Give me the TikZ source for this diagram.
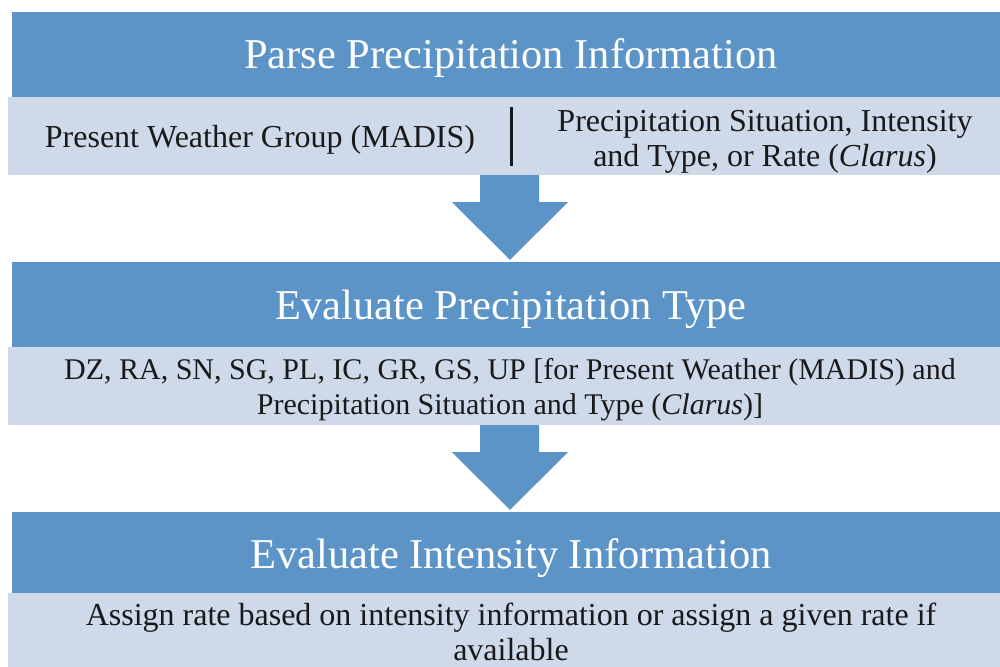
\documentclass[tikz,border=0pt]{standalone}
\usepackage{fontspec}
\setmainfont{Liberation Serif}
\usetikzlibrary{calc}
\definecolor{hdr}{RGB}{92,148,200}
\definecolor{bodyfill}{RGB}{206,217,233}
\definecolor{ink}{RGB}{25,25,25}
\begin{document}
\begin{tikzpicture}[x=1pt,y=-1pt,
  hdrbox/.style={fill=hdr, draw=none, inner sep=0pt, text=white, font=\fontsize{42.5}{48}\selectfont},
  bodybox/.style={fill=bodyfill, draw=none, inner sep=0pt},
  txt/.style={font=\fontsize{32}{35}\selectfont, align=center, text=ink, inner sep=0pt},
  blockarrow/.style={fill=hdr, draw=none}]
\useasboundingbox (0,0) rectangle (1000,666);
\fill[white] (0,0) rectangle (1000,666);
% stage 1
\node[hdrbox, minimum width=998pt, minimum height=85pt] (h1) at (511,54.5) {};
\node[hdrbox] (h1t) at (511,58) {Parse Precipitation Information};
\node[bodybox, minimum width=1006pt, minimum height=78pt] (b1) at (511,136) {};
\node[txt] (b1l) at (260,140) {Present Weather Group (MADIS)};
\node[txt] (b1r) at (765,141.5) {Precipitation Situation, Intensity\\and Type, or Rate (\textit{Clarus})};
\coordinate (sepT) at (511,107);
\coordinate (sepB) at (511,166);
\draw[ink, line width=3pt] (sepT) -- (sepB);
% stage 2
\node[hdrbox, minimum width=998pt, minimum height=85pt] (h2) at (511,304.5) {};
\node[hdrbox] (h2t) at (511,309) {Evaluate Precipitation Type};
\node[bodybox, minimum width=1006pt, minimum height=78pt] (b2) at (511,386) {};
\node[txt, font=\fontsize{30}{35}\selectfont] (b2t) at (510,390) {DZ, RA, SN, SG, PL, IC, GR, GS, UP [for Present Weather (MADIS) and\\Precipitation Situation and Type (\textit{Clarus})]};
% stage 3
\node[hdrbox, minimum width=998pt, minimum height=81pt] (h3) at (511,552.5) {};
\node[hdrbox] (h3t) at (511,558) {Evaluate Intensity Information};
\node[bodybox, minimum width=1006pt, minimum height=90pt] (b3) at (511,638) {};
\node[txt] (b3t) at (511,632) {Assign rate based on intensity information or assign a given rate if\\available};
% arrows
\fill[blockarrow] ($(b1.south)+(-31,0)$) -- ($(b1.south)+(28,0)$) -- ($(b1.south)+(28,27)$) -- ($(b1.south)+(57,27)$) -- ($(h2.north)+(-1,-2)$) -- ($(b1.south)+(-59,27)$) -- ($(b1.south)+(-31,27)$) -- cycle;
\fill[blockarrow] ($(b2.south)+(-31,0)$) -- ($(b2.south)+(28,0)$) -- ($(b2.south)+(28,27)$) -- ($(b2.south)+(57,27)$) -- ($(h3.north)+(-1,-2)$) -- ($(b2.south)+(-59,27)$) -- ($(b2.south)+(-31,27)$) -- cycle;
\end{tikzpicture}
\end{document}
